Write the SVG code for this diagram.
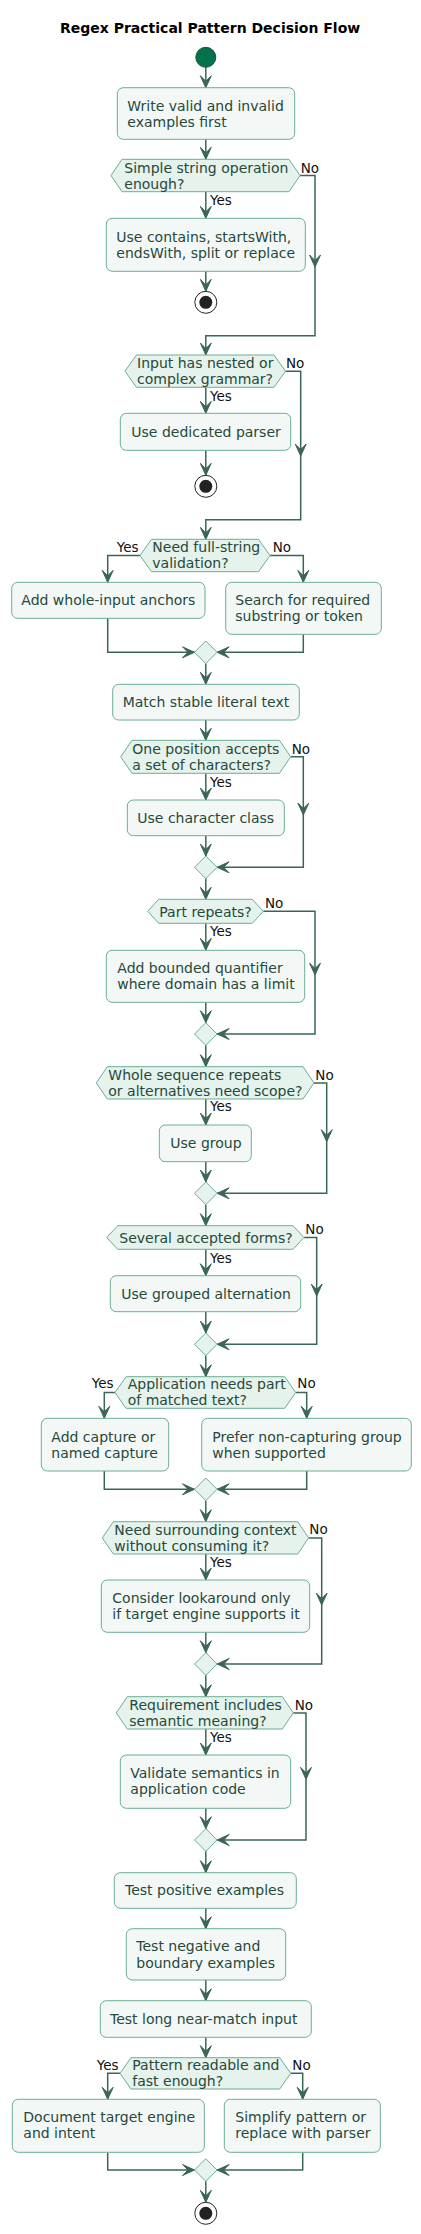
<svg xmlns="http://www.w3.org/2000/svg" width="421" height="2234" viewBox="0 0 421 2234">
<style>
text{font-family:"DejaVu Sans","Liberation Sans",sans-serif}
.t{font-size:14px;fill:#25493b}
.title{font-size:14px;font-weight:bold;fill:#000}
.lb{font-size:13.5px;fill:#111}
.box{fill:#f3f8f6;stroke:#6aae94;stroke-width:1}
.hex{fill:#e6f2ec;stroke:#6aae94;stroke-width:1}
.c{fill:none;stroke:#3a6655;stroke-width:1.5}
.a{fill:none;stroke:#3a6655;stroke-width:1.5;marker-end:url(#ah)}
</style>
<defs>
<marker id="ah" viewBox="-13 -6 14 12" refX="0" refY="0" markerWidth="14" markerHeight="12" markerUnits="userSpaceOnUse" orient="auto" overflow="visible">
<path d="M0,0 L-12,-5.5 L-6.5,0 L-12,5.5 Z" fill="#3a6655" stroke="#3a6655" stroke-width="1"/>
</marker>
</defs>
<rect width="421" height="2234" fill="#ffffff"/>
<text class="title" x="60" y="33.3">Regex Practical Pattern Decision Flow</text>

<g id="connectors">
<path class="a" d="M205.8,67.3 V87.7"/>
<path class="a" d="M205.8,139.3 V159.3"/>
<path class="a" d="M205.8,191.7 V218.3"/>
<path class="a" d="M205.8,271.3 V291.3"/>
<path class="a" d="M300,175.5 H315 V267"/>
<path class="a" d="M315,267 V335.7 H205.8 V355"/>
<path class="a" d="M205.8,387.3 V413.3"/>
<path class="a" d="M205.8,450.3 V475.3"/>
<path class="a" d="M285.5,371.2 H300.7 V456"/>
<path class="a" d="M300.7,456 V519.7 H205.8 V539.3"/>
<path class="a" d="M140,555.5 H107.7 V582.3"/>
<path class="a" d="M270,555.5 H303.3 V582.3"/>
<path class="a" d="M107.7,618.3 V652.3 H194.5"/>
<path class="a" d="M303.3,634.3 V652.3 H217.1"/>
<path class="a" d="M205.8,663.6 V684.3"/>
<path class="a" d="M205.8,720 V740.3"/>
<path class="a" d="M205.8,773.3 V800"/>
<path class="a" d="M205.8,835.7 V856"/>
<path class="a" d="M290.7,756.8 H303.3 V815"/>
<path class="a" d="M303.3,815 V867.3 H217.1"/>
<path class="a" d="M205.8,878.6 V899.3"/>
<path class="a" d="M205.8,923.3 V950.3"/>
<path class="a" d="M205.8,1002.3 V1022.7"/>
<path class="a" d="M263.3,911.3 H315 V975"/>
<path class="a" d="M315,975 V1034 H217.1"/>
<path class="a" d="M205.8,1045.3 V1066.7"/>
<path class="a" d="M205.8,1099 V1125"/>
<path class="a" d="M205.8,1161.7 V1182"/>
<path class="a" d="M314,1082.9 H326.7 V1141.7"/>
<path class="a" d="M326.7,1141.7 V1193.3 H217.1"/>
<path class="a" d="M205.8,1204.6 V1225.7"/>
<path class="a" d="M205.8,1249.3 V1275.7"/>
<path class="a" d="M205.8,1311.7 V1333"/>
<path class="a" d="M304,1237.5 H316.7 V1296"/>
<path class="a" d="M316.7,1296 V1344.3 H217.1"/>
<path class="a" d="M205.8,1355.6 V1376.7"/>
<path class="a" d="M115,1392.5 H104.3 V1418.3"/>
<path class="a" d="M295.7,1392.5 H306.7 V1418.3"/>
<path class="a" d="M104.3,1471 V1489.3 H194.5"/>
<path class="a" d="M306.7,1471 V1489.3 H217.1"/>
<path class="a" d="M205.8,1500.6 V1521.7"/>
<path class="a" d="M205.8,1554 V1580"/>
<path class="a" d="M205.8,1632.3 V1652.7"/>
<path class="a" d="M308.7,1537.9 H321.7 V1605"/>
<path class="a" d="M321.7,1605 V1664 H217.1"/>
<path class="a" d="M205.8,1675.3 V1696.7"/>
<path class="a" d="M205.8,1729 V1755"/>
<path class="a" d="M205.8,1808.3 V1828.7"/>
<path class="a" d="M293.3,1712.9 H306 V1779.3"/>
<path class="a" d="M306,1779.3 V1840 H217.1"/>
<path class="a" d="M205.8,1851.3 V1872.7"/>
<path class="a" d="M205.8,1908.3 V1928.7"/>
<path class="a" d="M205.8,1980 V2000.7"/>
<path class="a" d="M205.8,2037.3 V2057.7"/>
<path class="a" d="M120,2073.3 H107.7 V2099.3"/>
<path class="a" d="M290.7,2073.3 H302.7 V2099.3"/>
<path class="a" d="M107.7,2152.3 V2170 H194.5"/>
<path class="a" d="M302.7,2152.3 V2170 H217.1"/>
<path class="a" d="M205.8,2181.3 V2202.3"/>
<text class="lb" x="300.7" y="173.3">No</text>
<text class="lb" x="210" y="205">Yes</text>
<text class="lb" x="286" y="368.3">No</text>
<text class="lb" x="210" y="400.7">Yes</text>
<text class="lb" x="138.5" y="552" text-anchor="end">Yes</text>
<text class="lb" x="272.7" y="552">No</text>
<text class="lb" x="291.7" y="754">No</text>
<text class="lb" x="210" y="786.7">Yes</text>
<text class="lb" x="265" y="908.3">No</text>
<text class="lb" x="210" y="935.7">Yes</text>
<text class="lb" x="315.3" y="1080">No</text>
<text class="lb" x="210" y="1111">Yes</text>
<text class="lb" x="305.3" y="1234">No</text>
<text class="lb" x="210" y="1262.7">Yes</text>
<text class="lb" x="113.5" y="1388.3" text-anchor="end">Yes</text>
<text class="lb" x="297.3" y="1388.3">No</text>
<text class="lb" x="309.3" y="1534">No</text>
<text class="lb" x="210" y="1566.7">Yes</text>
<text class="lb" x="294.7" y="1709.7">No</text>
<text class="lb" x="210" y="1741.7">Yes</text>
<text class="lb" x="118.5" y="2069.7" text-anchor="end">Yes</text>
<text class="lb" x="292.3" y="2069.7">No</text>
</g>

<g id="start"><circle cx="205.8" cy="57.3" r="10" fill="#00734b" stroke="#1f4f3a" stroke-width="1"/></g>

<g id="n1"><rect class="box" x="117.3" y="87.7" width="177.4" height="51.6" rx="6"/>
<text class="t" x="127.3" y="110.5">Write valid and invalid</text><text class="t" x="127.3" y="126.7">examples first</text></g>

<g id="d1"><path class="hex" d="M111,175.5 L122,159.3 L289,159.3 L300,175.5 L289,191.7 L122,191.7 Z"/>
<text class="t" x="124.3" y="172.8">Simple string operation</text><text class="t" x="124.3" y="188.8">enough?</text></g>

<g id="n2"><rect class="box" x="106.3" y="218.3" width="199" height="53" rx="6"/>
<text class="t" x="116.3" y="241.7">Use contains, startsWith,</text><text class="t" x="116.3" y="257.7">endsWith, split or replace</text></g>

<g id="end1"><circle cx="205.8" cy="302.3" r="11" fill="#fff" stroke="#222" stroke-width="1"/><circle cx="205.8" cy="302.3" r="6.5" fill="#222"/></g>

<g id="d2"><path class="hex" d="M125,371.2 L136.5,355 L274,355 L285.5,371.2 L274,387.3 L136.5,387.3 Z"/>
<text class="t" x="137" y="368.3">Input has nested or</text><text class="t" x="137" y="384.3">complex grammar?</text></g>

<g id="n3"><rect class="box" x="120.3" y="413.3" width="170.4" height="37" rx="6"/>
<text class="t" x="131.3" y="436.7">Use dedicated parser</text></g>

<g id="end2"><circle cx="205.8" cy="486.3" r="11" fill="#fff" stroke="#222" stroke-width="1"/><circle cx="205.8" cy="486.3" r="6.5" fill="#222"/></g>

<g id="d3"><path class="hex" d="M140,555.5 L151.5,539.3 L258.5,539.3 L270,555.5 L258.5,571.7 L151.5,571.7 Z"/>
<text class="t" x="152.3" y="552.3">Need full-string</text><text class="t" x="152.3" y="568.4">validation?</text></g>

<g id="n4"><rect class="box" x="11.7" y="582.3" width="193.3" height="36" rx="6"/>
<text class="t" x="21.3" y="605">Add whole-input anchors</text></g>

<g id="n5"><rect class="box" x="225.7" y="582.3" width="155.6" height="52" rx="6"/>
<text class="t" x="235.3" y="605">Search for required</text><text class="t" x="235.3" y="621">substring or token</text></g>

<g id="m1"><path class="hex" d="M205.8,641 L217.1,652.3 L205.8,663.6 L194.5,652.3 Z"/></g>

<g id="n6"><rect class="box" x="112.7" y="684.3" width="186.6" height="35.7" rx="6"/>
<text class="t" x="122.7" y="707.4">Match stable literal text</text></g>

<g id="d4"><path class="hex" d="M120.7,756.8 L132,740.3 L279.4,740.3 L290.7,756.8 L279.4,773.3 L132,773.3 Z"/>
<text class="t" x="132.3" y="754">One position accepts</text><text class="t" x="132.3" y="770">a set of characters?</text></g>

<g id="n7"><rect class="box" x="127.3" y="800" width="157" height="35.7" rx="6"/>
<text class="t" x="137.3" y="822.7">Use character class</text></g>

<g id="m2"><path class="hex" d="M205.8,856 L217.1,867.3 L205.8,878.6 L194.5,867.3 Z"/></g>

<g id="d5"><path class="hex" d="M147.7,911.3 L158.7,899.3 L252.3,899.3 L263.3,911.3 L252.3,923.3 L158.7,923.3 Z"/>
<text class="t" x="159.3" y="916.7">Part repeats?</text></g>

<g id="n8"><rect class="box" x="106.3" y="950.3" width="198.4" height="52" rx="6"/>
<text class="t" x="117.3" y="972.6">Add bounded quantifier</text><text class="t" x="117.3" y="988.6">where domain has a limit</text></g>

<g id="m3"><path class="hex" d="M205.8,1022.7 L217.1,1034 L205.8,1045.3 L194.5,1034 Z"/></g>

<g id="d6"><path class="hex" d="M96.3,1082.9 L107.3,1066.7 L303,1066.7 L314,1082.9 L303,1099 L107.3,1099 Z"/>
<text class="t" x="108.3" y="1079.8">Whole sequence repeats</text><text class="t" x="108.3" y="1095.8">or alternatives need scope?</text></g>

<g id="n9"><rect class="box" x="159.3" y="1125" width="92" height="36.7" rx="6"/>
<text class="t" x="170.3" y="1148.3">Use group</text></g>

<g id="m4"><path class="hex" d="M205.8,1182 L217.1,1193.3 L205.8,1204.6 L194.5,1193.3 Z"/></g>

<g id="d7"><path class="hex" d="M106.7,1237.5 L117.7,1225.7 L293,1225.7 L304,1237.5 L293,1249.3 L117.7,1249.3 Z"/>
<text class="t" x="119.3" y="1242.8">Several accepted forms?</text></g>

<g id="n10"><rect class="box" x="110.3" y="1275.7" width="190.4" height="36" rx="6"/>
<text class="t" x="121.3" y="1298.5">Use grouped alternation</text></g>

<g id="m5"><path class="hex" d="M205.8,1333 L217.1,1344.3 L205.8,1355.6 L194.5,1344.3 Z"/></g>

<g id="d8"><path class="hex" d="M115,1392.5 L126,1376.7 L284.7,1376.7 L295.7,1392.5 L284.7,1408.3 L126,1408.3 Z"/>
<text class="t" x="127.7" y="1389.2">Application needs part</text><text class="t" x="127.7" y="1405.3">of matched text?</text></g>

<g id="n11"><rect class="box" x="41.3" y="1418.3" width="127.4" height="52.7" rx="6"/>
<text class="t" x="51.3" y="1441.7">Add capture or</text><text class="t" x="51.3" y="1457.7">named capture</text></g>

<g id="n12"><rect class="box" x="201.7" y="1418.3" width="209.6" height="52.7" rx="6"/>
<text class="t" x="212.3" y="1441.7">Prefer non-capturing group</text><text class="t" x="212.3" y="1457.7">when supported</text></g>

<g id="m6"><path class="hex" d="M205.8,1478 L217.1,1489.3 L205.8,1500.6 L194.5,1489.3 Z"/></g>

<g id="d9"><path class="hex" d="M102.3,1537.9 L113.3,1521.7 L297.7,1521.7 L308.7,1537.9 L297.7,1554 L113.3,1554 Z"/>
<text class="t" x="114.3" y="1534.5">Need surrounding context</text><text class="t" x="114.3" y="1550.7">without consuming it?</text></g>

<g id="n13"><rect class="box" x="101.3" y="1580" width="208.4" height="52.3" rx="6"/>
<text class="t" x="112.3" y="1602.7">Consider lookaround only</text><text class="t" x="112.3" y="1618.7">if target engine supports it</text></g>

<g id="m7"><path class="hex" d="M205.8,1652.7 L217.1,1664 L205.8,1675.3 L194.5,1664 Z"/></g>

<g id="d10"><path class="hex" d="M116.3,1712.9 L127.3,1696.7 L282.3,1696.7 L293.3,1712.9 L282.3,1729 L127.3,1729 Z"/>
<text class="t" x="129.3" y="1709.7">Requirement includes</text><text class="t" x="129.3" y="1725.7">semantic meaning?</text></g>

<g id="n14"><rect class="box" x="120.3" y="1755" width="170.4" height="53.3" rx="6"/>
<text class="t" x="130.3" y="1777.7">Validate semantics in</text><text class="t" x="130.3" y="1794">application code</text></g>

<g id="m8"><path class="hex" d="M205.8,1828.7 L217.1,1840 L205.8,1851.3 L194.5,1840 Z"/></g>

<g id="n15"><rect class="box" x="114.3" y="1872.7" width="182" height="35.6" rx="6"/>
<text class="t" x="125" y="1895.3">Test positive examples</text></g>

<g id="n16"><rect class="box" x="126.3" y="1928.7" width="159.4" height="51.3" rx="6"/>
<text class="t" x="136.3" y="1951.3">Test negative and</text><text class="t" x="136.3" y="1967.7">boundary examples</text></g>

<g id="n17"><rect class="box" x="100.3" y="2000.7" width="211" height="36.6" rx="6"/>
<text class="t" x="110" y="2024">Test long near-match input</text></g>

<g id="d11"><path class="hex" d="M120,2073.3 L131,2057.7 L279.7,2057.7 L290.7,2073.3 L279.7,2089 L131,2089 Z"/>
<text class="t" x="132.3" y="2070.3">Pattern readable and</text><text class="t" x="132.3" y="2086.3">fast enough?</text></g>

<g id="n18"><rect class="box" x="12.3" y="2099.3" width="192" height="53" rx="6"/>
<text class="t" x="23.3" y="2122.3">Document target engine</text><text class="t" x="23.3" y="2138.3">and intent</text></g>

<g id="n19"><rect class="box" x="224.3" y="2099.3" width="156" height="53" rx="6"/>
<text class="t" x="235.3" y="2122.3">Simplify pattern or</text><text class="t" x="235.3" y="2138.3">replace with parser</text></g>

<g id="m9"><path class="hex" d="M205.8,2158.7 L217.1,2170 L205.8,2181.3 L194.5,2170 Z"/></g>

<g id="end3"><circle cx="205.8" cy="2213.3" r="11" fill="#fff" stroke="#222" stroke-width="1"/><circle cx="205.8" cy="2213.3" r="6.5" fill="#222"/></g>
</svg>
